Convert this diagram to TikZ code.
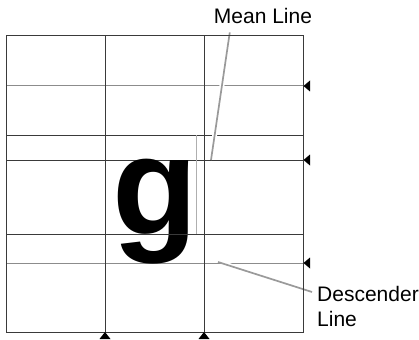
\documentclass[tikz,border=0pt]{standalone}
\usepackage{fontspec}
\setmainfont{Liberation Sans}
\usepackage{xcolor}
\usepackage{tikz}
\usetikzlibrary{positioning, calc}
\definecolor{griddark}{HTML}{3A3A3A}
\definecolor{gridlight}{HTML}{8C8C8C}
\definecolor{leadergray}{HTML}{9A9A9A}

\begin{document}
\begin{tikzpicture}[x=1pt, y=-1pt,
  darkline/.style={draw=griddark, line width=1pt},
  lightline/.style={draw=gridlight, line width=1pt},
  boxline/.style={draw=gridlight!70, line width=0.8pt},
  label/.style={inner sep=0pt, font=\fontsize{21}{25}\selectfont, align=left},
  leader/.style={draw=leadergray, line width=1.7pt,
                 preaction={draw=white, line width=5pt, shorten >=5pt}},
  marker/.style={fill=black, draw=none}
]
  \useasboundingbox (0,0) rectangle (419,339);
  % grid
  \draw[lightline] (6,86) -- (303,86);
  \draw[lightline] (6,263) -- (303,263);
  \foreach \y in {135,160,234}
    \draw[darkline] (6,\y) -- (303,\y);
  \foreach \x in {105,204}
    \draw[darkline] (\x,36) -- (\x,332);
  % glyph
  \node[inner sep=0pt, anchor=base west, font=\fontsize{140}{140}\selectfont\bfseries] (glyph) at (112,234) {g};
  \draw[boxline] (196,135) -- (196,234);
  \draw[darkline] (113,234) -- (196,234);
  % labels and leaders
  \node[label, anchor=base] (meanlbl) at (263,24) {Mean Line};
  \node[label, anchor=north west] (desclbl) at (317,286) {Descender\\Line};
  \coordinate (meantip) at (211,160);
  \coordinate (desctip) at (218,262);
  \draw[leader] ($(meanlbl.south west)+(16,8)$) -- (meantip);
  \draw[leader] ($(desclbl.north west)+(-5,6)$) -- (desctip);
  % frame
  \draw[darkline] (6,36) rectangle (303,332);
  % markers
  \foreach \y in {86,160,263}
    \fill[marker] (303.5,\y) -- (310,\y-5.5) -- (310,\y+5.5) -- cycle;
  \foreach \x in {105,204}
    \fill[marker] (\x,332) -- (\x-5.5,339) -- (\x+5.5,339) -- cycle;
\end{tikzpicture}
\end{document}
